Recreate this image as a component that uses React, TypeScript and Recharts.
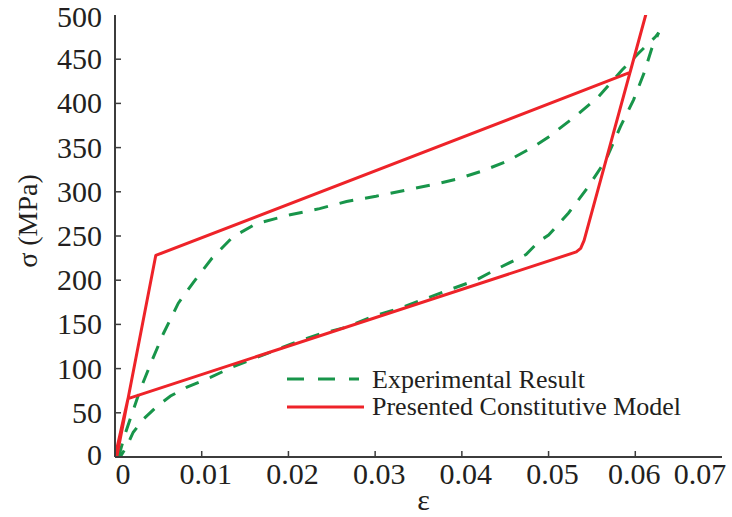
import { LineChart, Line, XAxis, YAxis, Legend } from "recharts";

const GREEN = "#18954a";
const RED = "#ee2329";
const INK = "#231f20";
const FRAME = "#3c3c3c";
const FONT = "Liberation Serif, DejaVu Serif, serif";

// experimental loop: loading branch then unloading branch
const expStrain = [
  0.0004, 0.0012, 0.0029, 0.0043, 0.0056, 0.0073, 0.009, 0.0112, 0.0136, 0.0163,
  0.0202, 0.0236, 0.0267, 0.0301, 0.0336, 0.0366, 0.0393, 0.0422, 0.0451, 0.0481,
  0.05, 0.0533, 0.0558, 0.0585, 0.0604, 0.0623, 0.0627,
  0.0619, 0.061, 0.0598, 0.0583, 0.0566, 0.0546, 0.0523, 0.05, 0.0489, 0.0474,
  0.0443, 0.0416, 0.0385, 0.0355, 0.0328, 0.0297, 0.0267, 0.0236, 0.0209, 0.0175,
  0.0136, 0.011, 0.0083, 0.0064, 0.0048, 0.0033, 0.0021, 0.0014, 0.0006,
];
const expStress = [
  0, 27, 76, 110, 140, 174, 197, 225, 249, 264,
  274, 281, 289, 295, 302, 308, 314, 323, 334, 350,
  362, 387, 408, 438, 457, 475, 480,
  462, 434, 404, 374, 336, 306, 276, 251, 244, 229,
  214, 200, 189, 178, 168, 159, 147, 139, 130, 117,
  102, 90, 79, 69, 57, 43, 28, 13, 0,
];

// presented constitutive model (piecewise linear loop)
const modelStrain = [0.0002, 0.0047, 0.0594, 0.0612, 0.0541, 0.0537, 0.0532, 0.0015, 0];
const modelStress = [0, 228, 435, 500, 245, 236, 232, 66, 0];

const strainTicks = [0, 0.01, 0.02, 0.03, 0.04, 0.05, 0.06, 0.07];
const stressTicks = [0, 50, 100, 150, 200, 250, 300, 350, 400, 450, 500];

const expData = expStrain.map((e, i) => ({ e, s: expStress[i] }));
const modelData = modelStrain.map((e, i) => ({ e, s: modelStress[i] }));

const TICK = 6;
const xLabelShift: Record<string, number> = { "0": 8, "0.06": -1, "0.07": -22 };
const yLabelShift: Record<string, number> = { "0": -2, "500": 2 };

const isEdge = (v: number, ticks: number[]) => v === ticks[0] || v === ticks[ticks.length - 1];

const textStyle = (size: number) => ({ fontFamily: FONT, fontSize: size, fill: INK });

function BottomTick(props: any) {
  const { x, y, payload } = props;
  const v = payload.value;
  const dx = xLabelShift[String(v)] ?? 4;
  return (
    <g>
      {!isEdge(v, strainTicks) && <line x1={x} x2={x} y1={y} y2={y - TICK} stroke={FRAME} strokeWidth={1.5} />}
      <text x={x + dx} y={y + 27} textAnchor="middle" style={textStyle(30)}>
        {String(v)}
      </text>
    </g>
  );
}

function TopTick(props: any) {
  const { x, y, payload } = props;
  if (isEdge(payload.value, strainTicks)) return <g />;
  return <line x1={x} x2={x} y1={y} y2={y + TICK} stroke={FRAME} strokeWidth={1.5} />;
}

function LeftTick(props: any) {
  const { x, y, payload } = props;
  const v = payload.value;
  const dy = yLabelShift[String(v)] ?? 0;
  return (
    <g>
      {!isEdge(v, stressTicks) && <line x1={x} x2={x + TICK} y1={y} y2={y} stroke={FRAME} strokeWidth={1.5} />}
      <text x={x - 13} y={y + 10 + dy} textAnchor="end" style={textStyle(30)}>
        {String(v)}
      </text>
    </g>
  );
}

function RightTick(props: any) {
  const { x, y, payload } = props;
  if (isEdge(payload.value, stressTicks)) return <g />;
  return <line x1={x} x2={x - TICK} y1={y} y2={y} stroke={FRAME} strokeWidth={1.5} />;
}

function LegendBox() {
  return (
    <svg width={430} height={60} style={{ display: "block" }}>
      <line x1={2} x2={74} y1={14} y2={14} stroke={GREEN} strokeWidth={3} strokeDasharray="17 14" />
      <text x={87} y={23} style={textStyle(26)}>
        Experimental Result
      </text>
      <line x1={2} x2={79} y1={42} y2={42} stroke={RED} strokeWidth={3} />
      <text x={87} y={50} style={textStyle(26)}>
        Presented Constitutive Model
      </text>
    </svg>
  );
}

const axisLine = { stroke: FRAME, strokeWidth: 2 };

export default function App() {
  return (
    <div style={{ position: "absolute", left: 0, top: 0, background: "#fff" }}>
      <LineChart width={732} height={517} data={expData} margin={{ top: 15, right: 10, bottom: 0, left: 0 }}>
        <XAxis
          dataKey="e"
          type="number"
          domain={[0, 0.07]}
          ticks={strainTicks}
          interval={0}
          allowDataOverflow
          height={60}
          tickSize={0}
          tickMargin={0}
          tickLine={false}
          axisLine={axisLine}
          tick={<BottomTick />}
          label={(p: any) => {
            const vb = p.viewBox;
            return (
              <text x={vb.x + vb.width / 2 + 5} y={vb.y + 53} textAnchor="middle" style={textStyle(30)}>
                ε
              </text>
            );
          }}
        />
        <XAxis
          xAxisId="top"
          orientation="top"
          dataKey="e"
          type="number"
          domain={[0, 0.07]}
          ticks={strainTicks}
          interval={0}
          allowDataOverflow
          height={0}
          tickSize={0}
          tickMargin={0}
          tickLine={false}
          axisLine={axisLine}
          tick={<TopTick />}
        />
        <YAxis
          type="number"
          domain={[0, 500]}
          ticks={stressTicks}
          interval={0}
          allowDataOverflow
          width={115}
          tickSize={0}
          tickMargin={0}
          tickLine={false}
          axisLine={axisLine}
          tick={<LeftTick />}
          label={(p: any) => {
            const vb = p.viewBox;
            const cx = 27;
            const cy = vb.y + vb.height / 2 - 15;
            return (
              <text
                x={cx}
                y={cy}
                transform={`rotate(-90, ${cx}, ${cy})`}
                textAnchor="middle"
                dominantBaseline="central"
                style={textStyle(28)}
              >
                σ (MPa)
              </text>
            );
          }}
        />
        <YAxis
          yAxisId="right"
          orientation="right"
          type="number"
          domain={[0, 500]}
          ticks={stressTicks}
          interval={0}
          allowDataOverflow
          width={0}
          tickSize={0}
          tickMargin={0}
          tickLine={false}
          axisLine={axisLine}
          tick={<RightTick />}
        />
        <Legend
          layout="horizontal"
          verticalAlign="middle"
          align="center"
          wrapperStyle={{ left: 285, top: 365, width: 430 }}
          content={() => <LegendBox />}
        />
        <Line
          data={expData}
          dataKey="s"
          type="linear"
          stroke={GREEN}
          strokeWidth={3}
          strokeDasharray="14 12"
          dot={false}
          activeDot={false}
          isAnimationActive={false}
        />
        <Line
          data={modelData}
          dataKey="s"
          type="linear"
          stroke={RED}
          strokeWidth={3}
          strokeLinejoin="round"
          dot={false}
          activeDot={false}
          isAnimationActive={false}
        />
      </LineChart>
    </div>
  );
}
